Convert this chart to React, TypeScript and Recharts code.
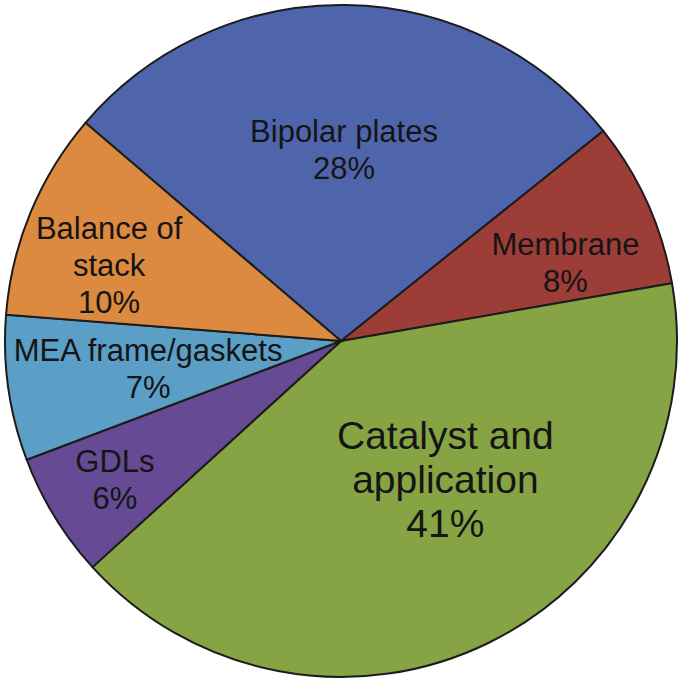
import React from 'react';
import { PieChart, Pie, Cell } from 'recharts';

// slice names (\n marks the line breaks used in the labels)
const NAMES = [
  'Bipolar plates',
  'Membrane',
  'Catalyst and\napplication',
  'GDLs',
  'MEA frame/gaskets',
  'Balance of\nstack',
];
const SHARES = [28, 8, 41, 6, 7, 10];
const COLORS = ['#4F65AB', '#9C3D38', '#86A444', '#664A93', '#5B9EC6', '#DB8A3F'];

// label placement: fraction of the radius and angle nudge from the slice middle
const LABEL_RADIUS = [0.571, 0.708, 0.515, 0.789, 0.58, 0.726];
const LABEL_SHIFT = [0, -5, 11, 0, 0, 4.4];

const data = NAMES.map((name, i) => ({ name, value: SHARES[i] }));

const RADIAN = Math.PI / 180;
const FONT = '"Liberation Sans", Arial, sans-serif';

const renderLabel = (props: any) => {
  const { cx, cy, midAngle, outerRadius, index, name, value } = props;
  const big = index === 2;
  const fontSize = big ? 39 : 31;
  const lineH = big ? 44 : 37;
  const cap = fontSize * 0.716;
  const lines = [...String(name).split('\n'), `${value}%`];
  const a = (midAngle + LABEL_SHIFT[index]) * RADIAN;
  const r = outerRadius * LABEL_RADIUS[index];
  const x = cx + r * Math.cos(a);
  const yc = cy - r * Math.sin(a);
  const y0 = yc - ((lines.length - 1) * lineH - cap) / 2;
  return (
    <text
      x={x}
      y={y0}
      textAnchor="middle"
      fill="#151515"
      fontSize={fontSize}
      fontFamily={FONT}
    >
      {lines.map((l, k) => (
        <tspan key={k} x={x} y={y0 + k * lineH}>
          {l}
        </tspan>
      ))}
    </text>
  );
};

export default function App() {
  return (
    <div style={{ position: 'absolute', left: 0, top: 0, background: '#fff' }}>
      <PieChart width={685} height={686} margin={{ top: 0, right: 0, bottom: 0, left: 0 }}>
        <Pie
          data={data}
          dataKey="value"
          nameKey="name"
          cx={341}
          cy={341}
          outerRadius={336}
          startAngle={139.5}
          endAngle={139.5 - 360}
          stroke="#1c1c1c"
          strokeWidth={2}
          label={renderLabel}
          labelLine={false}
          isAnimationActive={false}
        >
          {data.map((d, i) => (
            <Cell key={d.name} fill={COLORS[i]} />
          ))}
        </Pie>
      </PieChart>
    </div>
  );
}
